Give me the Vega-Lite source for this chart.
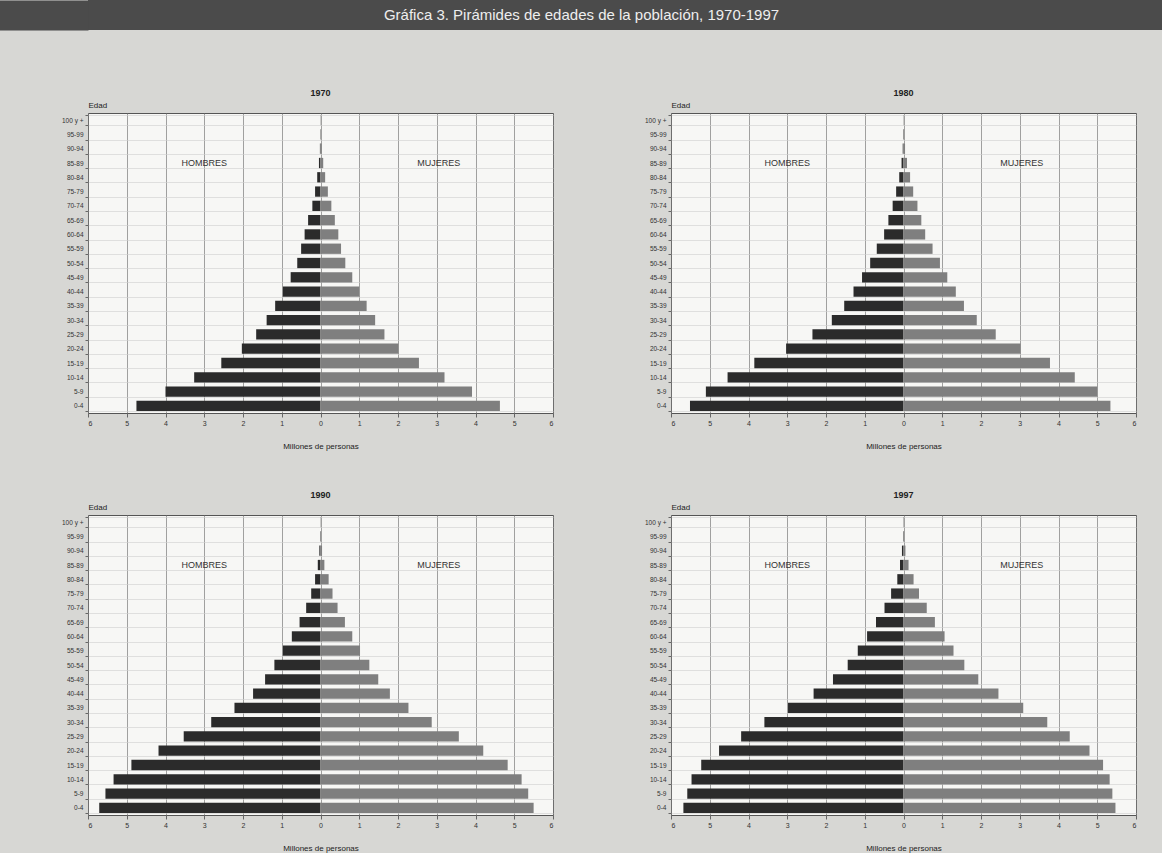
{
  "$schema": "https://vega.github.io/schema/vega-lite/v6.json",
  "background": "#d7d7d4",
  "padding": {"left": -16, "top": 0, "right": 0, "bottom": 0},
  "spacing": 58,
  "columns": 1,
  "align": "none",
  "config": {"font": "Liberation Sans", "view": {"stroke": null}},
  "concat": [
    {
      "width": 1075,
      "height": 30,
      "view": {"fill": "#4b4b4b", "stroke": null},
      "data": {"values": [{"titulo": "Gráfica 3. Pirámides de edades de la población, 1970-1997", "franja": "titulo"}]},
      "mark": {"type": "text", "color": "#eeeeee", "fontSize": 15, "dx": -44},
      "encoding": {
        "text": {"field": "titulo"},
        "y": {
          "field": "franja",
          "type": "nominal",
          "axis": {"title": null, "labels": false, "domain": false, "grid": false, "ticks": true, "tickSize": 89, "tickWidth": 30, "tickColor": "#4b4b4b", "tickCap": "butt"}
        }
      }
    },
    {
      "data": {"values": [
        {"anio":"1970","sexo":"Hombres","edad":"0-4","millones":4.75},
        {"anio":"1970","sexo":"Hombres","edad":"5-9","millones":4.00},
        {"anio":"1970","sexo":"Hombres","edad":"10-14","millones":3.26},
        {"anio":"1970","sexo":"Hombres","edad":"15-19","millones":2.56},
        {"anio":"1970","sexo":"Hombres","edad":"20-24","millones":2.03},
        {"anio":"1970","sexo":"Hombres","edad":"25-29","millones":1.66},
        {"anio":"1970","sexo":"Hombres","edad":"30-34","millones":1.39},
        {"anio":"1970","sexo":"Hombres","edad":"35-39","millones":1.17},
        {"anio":"1970","sexo":"Hombres","edad":"40-44","millones":0.97},
        {"anio":"1970","sexo":"Hombres","edad":"45-49","millones":0.77},
        {"anio":"1970","sexo":"Hombres","edad":"50-54","millones":0.60},
        {"anio":"1970","sexo":"Hombres","edad":"55-59","millones":0.50},
        {"anio":"1970","sexo":"Hombres","edad":"60-64","millones":0.41},
        {"anio":"1970","sexo":"Hombres","edad":"65-69","millones":0.32},
        {"anio":"1970","sexo":"Hombres","edad":"70-74","millones":0.21},
        {"anio":"1970","sexo":"Hombres","edad":"75-79","millones":0.14},
        {"anio":"1970","sexo":"Hombres","edad":"80-84","millones":0.085},
        {"anio":"1970","sexo":"Hombres","edad":"85-89","millones":0.04},
        {"anio":"1970","sexo":"Hombres","edad":"90-94","millones":0.015},
        {"anio":"1970","sexo":"Hombres","edad":"95-99","millones":0.006},
        {"anio":"1970","sexo":"Hombres","edad":"100 y +","millones":0.003},
        {"anio":"1970","sexo":"Mujeres","edad":"0-4","millones":4.63},
        {"anio":"1970","sexo":"Mujeres","edad":"5-9","millones":3.91},
        {"anio":"1970","sexo":"Mujeres","edad":"10-14","millones":3.20},
        {"anio":"1970","sexo":"Mujeres","edad":"15-19","millones":2.54},
        {"anio":"1970","sexo":"Mujeres","edad":"20-24","millones":2.01},
        {"anio":"1970","sexo":"Mujeres","edad":"25-29","millones":1.65},
        {"anio":"1970","sexo":"Mujeres","edad":"30-34","millones":1.41},
        {"anio":"1970","sexo":"Mujeres","edad":"35-39","millones":1.19},
        {"anio":"1970","sexo":"Mujeres","edad":"40-44","millones":1.00},
        {"anio":"1970","sexo":"Mujeres","edad":"45-49","millones":0.82},
        {"anio":"1970","sexo":"Mujeres","edad":"50-54","millones":0.64},
        {"anio":"1970","sexo":"Mujeres","edad":"55-59","millones":0.53},
        {"anio":"1970","sexo":"Mujeres","edad":"60-64","millones":0.46},
        {"anio":"1970","sexo":"Mujeres","edad":"65-69","millones":0.37},
        {"anio":"1970","sexo":"Mujeres","edad":"70-74","millones":0.28},
        {"anio":"1970","sexo":"Mujeres","edad":"75-79","millones":0.19},
        {"anio":"1970","sexo":"Mujeres","edad":"80-84","millones":0.12},
        {"anio":"1970","sexo":"Mujeres","edad":"85-89","millones":0.07},
        {"anio":"1970","sexo":"Mujeres","edad":"90-94","millones":0.03},
        {"anio":"1970","sexo":"Mujeres","edad":"95-99","millones":0.01},
        {"anio":"1970","sexo":"Mujeres","edad":"100 y +","millones":0.005},
        {"anio":"1980","sexo":"Hombres","edad":"0-4","millones":5.51},
        {"anio":"1980","sexo":"Hombres","edad":"5-9","millones":5.10},
        {"anio":"1980","sexo":"Hombres","edad":"10-14","millones":4.54},
        {"anio":"1980","sexo":"Hombres","edad":"15-19","millones":3.85},
        {"anio":"1980","sexo":"Hombres","edad":"20-24","millones":3.03},
        {"anio":"1980","sexo":"Hombres","edad":"25-29","millones":2.35},
        {"anio":"1980","sexo":"Hombres","edad":"30-34","millones":1.85},
        {"anio":"1980","sexo":"Hombres","edad":"35-39","millones":1.53},
        {"anio":"1980","sexo":"Hombres","edad":"40-44","millones":1.29},
        {"anio":"1980","sexo":"Hombres","edad":"45-49","millones":1.07},
        {"anio":"1980","sexo":"Hombres","edad":"50-54","millones":0.86},
        {"anio":"1980","sexo":"Hombres","edad":"55-59","millones":0.69},
        {"anio":"1980","sexo":"Hombres","edad":"60-64","millones":0.50},
        {"anio":"1980","sexo":"Hombres","edad":"65-69","millones":0.39},
        {"anio":"1980","sexo":"Hombres","edad":"70-74","millones":0.28},
        {"anio":"1980","sexo":"Hombres","edad":"75-79","millones":0.19},
        {"anio":"1980","sexo":"Hombres","edad":"80-84","millones":0.11},
        {"anio":"1980","sexo":"Hombres","edad":"85-89","millones":0.05},
        {"anio":"1980","sexo":"Hombres","edad":"90-94","millones":0.02},
        {"anio":"1980","sexo":"Hombres","edad":"95-99","millones":0.008},
        {"anio":"1980","sexo":"Hombres","edad":"100 y +","millones":0.003},
        {"anio":"1980","sexo":"Mujeres","edad":"0-4","millones":5.34},
        {"anio":"1980","sexo":"Mujeres","edad":"5-9","millones":5.00},
        {"anio":"1980","sexo":"Mujeres","edad":"10-14","millones":4.42},
        {"anio":"1980","sexo":"Mujeres","edad":"15-19","millones":3.78},
        {"anio":"1980","sexo":"Mujeres","edad":"20-24","millones":3.02},
        {"anio":"1980","sexo":"Mujeres","edad":"25-29","millones":2.38},
        {"anio":"1980","sexo":"Mujeres","edad":"30-34","millones":1.89},
        {"anio":"1980","sexo":"Mujeres","edad":"35-39","millones":1.56},
        {"anio":"1980","sexo":"Mujeres","edad":"40-44","millones":1.35},
        {"anio":"1980","sexo":"Mujeres","edad":"45-49","millones":1.13},
        {"anio":"1980","sexo":"Mujeres","edad":"50-54","millones":0.94},
        {"anio":"1980","sexo":"Mujeres","edad":"55-59","millones":0.75},
        {"anio":"1980","sexo":"Mujeres","edad":"60-64","millones":0.56},
        {"anio":"1980","sexo":"Mujeres","edad":"65-69","millones":0.46},
        {"anio":"1980","sexo":"Mujeres","edad":"70-74","millones":0.36},
        {"anio":"1980","sexo":"Mujeres","edad":"75-79","millones":0.25},
        {"anio":"1980","sexo":"Mujeres","edad":"80-84","millones":0.17},
        {"anio":"1980","sexo":"Mujeres","edad":"85-89","millones":0.09},
        {"anio":"1980","sexo":"Mujeres","edad":"90-94","millones":0.04},
        {"anio":"1980","sexo":"Mujeres","edad":"95-99","millones":0.015},
        {"anio":"1980","sexo":"Mujeres","edad":"100 y +","millones":0.005},
        {"anio":"1990","sexo":"Hombres","edad":"0-4","millones":5.71},
        {"anio":"1990","sexo":"Hombres","edad":"5-9","millones":5.55},
        {"anio":"1990","sexo":"Hombres","edad":"10-14","millones":5.34},
        {"anio":"1990","sexo":"Hombres","edad":"15-19","millones":4.88},
        {"anio":"1990","sexo":"Hombres","edad":"20-24","millones":4.18},
        {"anio":"1990","sexo":"Hombres","edad":"25-29","millones":3.53},
        {"anio":"1990","sexo":"Hombres","edad":"30-34","millones":2.82},
        {"anio":"1990","sexo":"Hombres","edad":"35-39","millones":2.22},
        {"anio":"1990","sexo":"Hombres","edad":"40-44","millones":1.74},
        {"anio":"1990","sexo":"Hombres","edad":"45-49","millones":1.43},
        {"anio":"1990","sexo":"Hombres","edad":"50-54","millones":1.19},
        {"anio":"1990","sexo":"Hombres","edad":"55-59","millones":0.97},
        {"anio":"1990","sexo":"Hombres","edad":"60-64","millones":0.74},
        {"anio":"1990","sexo":"Hombres","edad":"65-69","millones":0.54},
        {"anio":"1990","sexo":"Hombres","edad":"70-74","millones":0.37},
        {"anio":"1990","sexo":"Hombres","edad":"75-79","millones":0.24},
        {"anio":"1990","sexo":"Hombres","edad":"80-84","millones":0.14},
        {"anio":"1990","sexo":"Hombres","edad":"85-89","millones":0.07},
        {"anio":"1990","sexo":"Hombres","edad":"90-94","millones":0.03},
        {"anio":"1990","sexo":"Hombres","edad":"95-99","millones":0.01},
        {"anio":"1990","sexo":"Hombres","edad":"100 y +","millones":0.003},
        {"anio":"1990","sexo":"Mujeres","edad":"0-4","millones":5.50},
        {"anio":"1990","sexo":"Mujeres","edad":"5-9","millones":5.36},
        {"anio":"1990","sexo":"Mujeres","edad":"10-14","millones":5.19},
        {"anio":"1990","sexo":"Mujeres","edad":"15-19","millones":4.83},
        {"anio":"1990","sexo":"Mujeres","edad":"20-24","millones":4.20},
        {"anio":"1990","sexo":"Mujeres","edad":"25-29","millones":3.57},
        {"anio":"1990","sexo":"Mujeres","edad":"30-34","millones":2.87},
        {"anio":"1990","sexo":"Mujeres","edad":"35-39","millones":2.27},
        {"anio":"1990","sexo":"Mujeres","edad":"40-44","millones":1.79},
        {"anio":"1990","sexo":"Mujeres","edad":"45-49","millones":1.49},
        {"anio":"1990","sexo":"Mujeres","edad":"50-54","millones":1.26},
        {"anio":"1990","sexo":"Mujeres","edad":"55-59","millones":1.02},
        {"anio":"1990","sexo":"Mujeres","edad":"60-64","millones":0.82},
        {"anio":"1990","sexo":"Mujeres","edad":"65-69","millones":0.63},
        {"anio":"1990","sexo":"Mujeres","edad":"70-74","millones":0.44},
        {"anio":"1990","sexo":"Mujeres","edad":"75-79","millones":0.31},
        {"anio":"1990","sexo":"Mujeres","edad":"80-84","millones":0.21},
        {"anio":"1990","sexo":"Mujeres","edad":"85-89","millones":0.10},
        {"anio":"1990","sexo":"Mujeres","edad":"90-94","millones":0.04},
        {"anio":"1990","sexo":"Mujeres","edad":"95-99","millones":0.01},
        {"anio":"1990","sexo":"Mujeres","edad":"100 y +","millones":0.005},
        {"anio":"1997","sexo":"Hombres","edad":"0-4","millones":5.68},
        {"anio":"1997","sexo":"Hombres","edad":"5-9","millones":5.58},
        {"anio":"1997","sexo":"Hombres","edad":"10-14","millones":5.47},
        {"anio":"1997","sexo":"Hombres","edad":"15-19","millones":5.22},
        {"anio":"1997","sexo":"Hombres","edad":"20-24","millones":4.76},
        {"anio":"1997","sexo":"Hombres","edad":"25-29","millones":4.19},
        {"anio":"1997","sexo":"Hombres","edad":"30-34","millones":3.59},
        {"anio":"1997","sexo":"Hombres","edad":"35-39","millones":2.98},
        {"anio":"1997","sexo":"Hombres","edad":"40-44","millones":2.32},
        {"anio":"1997","sexo":"Hombres","edad":"45-49","millones":1.82},
        {"anio":"1997","sexo":"Hombres","edad":"50-54","millones":1.44},
        {"anio":"1997","sexo":"Hombres","edad":"55-59","millones":1.18},
        {"anio":"1997","sexo":"Hombres","edad":"60-64","millones":0.94},
        {"anio":"1997","sexo":"Hombres","edad":"65-69","millones":0.71},
        {"anio":"1997","sexo":"Hombres","edad":"70-74","millones":0.49},
        {"anio":"1997","sexo":"Hombres","edad":"75-79","millones":0.32},
        {"anio":"1997","sexo":"Hombres","edad":"80-84","millones":0.16},
        {"anio":"1997","sexo":"Hombres","edad":"85-89","millones":0.09},
        {"anio":"1997","sexo":"Hombres","edad":"90-94","millones":0.04},
        {"anio":"1997","sexo":"Hombres","edad":"95-99","millones":0.01},
        {"anio":"1997","sexo":"Hombres","edad":"100 y +","millones":0.005},
        {"anio":"1997","sexo":"Mujeres","edad":"0-4","millones":5.47},
        {"anio":"1997","sexo":"Mujeres","edad":"5-9","millones":5.39},
        {"anio":"1997","sexo":"Mujeres","edad":"10-14","millones":5.32},
        {"anio":"1997","sexo":"Mujeres","edad":"15-19","millones":5.15},
        {"anio":"1997","sexo":"Mujeres","edad":"20-24","millones":4.80},
        {"anio":"1997","sexo":"Mujeres","edad":"25-29","millones":4.29},
        {"anio":"1997","sexo":"Mujeres","edad":"30-34","millones":3.71},
        {"anio":"1997","sexo":"Mujeres","edad":"35-39","millones":3.09},
        {"anio":"1997","sexo":"Mujeres","edad":"40-44","millones":2.45},
        {"anio":"1997","sexo":"Mujeres","edad":"45-49","millones":1.93},
        {"anio":"1997","sexo":"Mujeres","edad":"50-54","millones":1.57},
        {"anio":"1997","sexo":"Mujeres","edad":"55-59","millones":1.29},
        {"anio":"1997","sexo":"Mujeres","edad":"60-64","millones":1.06},
        {"anio":"1997","sexo":"Mujeres","edad":"65-69","millones":0.81},
        {"anio":"1997","sexo":"Mujeres","edad":"70-74","millones":0.60},
        {"anio":"1997","sexo":"Mujeres","edad":"75-79","millones":0.40},
        {"anio":"1997","sexo":"Mujeres","edad":"80-84","millones":0.26},
        {"anio":"1997","sexo":"Mujeres","edad":"85-89","millones":0.13},
        {"anio":"1997","sexo":"Mujeres","edad":"90-94","millones":0.05},
        {"anio":"1997","sexo":"Mujeres","edad":"95-99","millones":0.015},
        {"anio":"1997","sexo":"Mujeres","edad":"100 y +","millones":0.005},
        {"anio":"1970","edad":"85-89","etiqueta":"HOMBRES","pos":-3.0},
        {"anio":"1970","edad":"85-89","etiqueta":"MUJERES","pos":3.05},
        {"anio":"1980","edad":"85-89","etiqueta":"HOMBRES","pos":-3.0},
        {"anio":"1980","edad":"85-89","etiqueta":"MUJERES","pos":3.05},
        {"anio":"1990","edad":"85-89","etiqueta":"HOMBRES","pos":-3.0},
        {"anio":"1990","edad":"85-89","etiqueta":"MUJERES","pos":3.05},
        {"anio":"1997","edad":"85-89","etiqueta":"HOMBRES","pos":-3.0},
        {"anio":"1997","edad":"85-89","etiqueta":"MUJERES","pos":3.05}
      ]},
      "transform": [
        {"calculate": "isValid(datum.millones) ? (datum.sexo == 'Hombres' ? -datum.millones : datum.millones) : datum.pos", "as": "x"}
      ],
      "facet": {
        "field": "anio",
        "type": "ordinal",
        "header": {"title": null, "labelFontSize": 9, "labelFontWeight": "bold", "labelColor": "#222222", "labelPadding": 3}
      },
      "columns": 2,
      "spacing": {"column": 29, "row": 39},
      "resolve": {"axis": {"x": "independent", "y": "independent"}},
      "spec": {
        "width": 465,
        "height": 300,
        "view": {"fill": "#f7f7f5", "stroke": "#555555", "strokeWidth": 1},
        "encoding": {
          "x": {
            "field": "x",
            "type": "quantitative",
            "scale": {"domain": [-6, 6], "nice": false},
            "axis": {
              "title": "Millones de personas",
              "values": [-6, -5, -4, -3, -2, -1, 0, 1, 2, 3, 4, 5, 6],
              "labelExpr": "abs(datum.value)",
              "grid": true,
              "gridColor": "#7a7a7a",
              "gridWidth": 0.7,
              "domain": false,
              "tickColor": "#666666",
              "tickSize": 4,
              "labelFontSize": 7,
              "labelColor": "#333333",
              "titleFontSize": 8,
              "titleFontWeight": "normal",
              "titleColor": "#222222",
              "titlePadding": 16
            }
          },
          "y": {
            "field": "edad",
            "type": "nominal",
            "sort": null,
            "scale": {
              "domain": ["100 y +", "95-99", "90-94", "85-89", "80-84", "75-79", "70-74", "65-69", "60-64", "55-59", "50-54", "45-49", "40-44", "35-39", "30-34", "25-29", "20-24", "15-19", "10-14", "5-9", "0-4"],
              "paddingInner": 0.28,
              "paddingOuter": 0.14
            },
            "axis": {
              "title": "Edad",
              "titleAngle": 0,
              "titleAlign": "left",
              "titleBaseline": "bottom",
              "titleX": 0,
              "titleY": -4,
              "titleFontSize": 8,
              "titleFontWeight": "normal",
              "titleColor": "#222222",
              "labelFontSize": 6.5,
              "labelColor": "#333333",
              "tickSize": 3,
              "tickColor": "#666666",
              "tickBand": "extent",
              "domain": false,
              "grid": true,
              "gridColor": "#cfcfcf",
              "gridWidth": 0.6,
              "minExtent": 87
            }
          }
        },
        "layer": [
          {
            "transform": [{"filter": "isValid(datum.millones)"}],
            "mark": {"type": "bar"},
            "encoding": {
              "color": {
                "field": "sexo",
                "type": "nominal",
                "scale": {"domain": ["Hombres", "Mujeres"], "range": ["#2b2b2b", "#7f7f7f"]},
                "legend": null
              }
            }
          },
          {
            "transform": [{"filter": "isValid(datum.etiqueta)"}],
            "mark": {"type": "text", "fontSize": 9, "color": "#333333"},
            "encoding": {"text": {"field": "etiqueta"}}
          }
        ]
      }
    }
  ]
}
